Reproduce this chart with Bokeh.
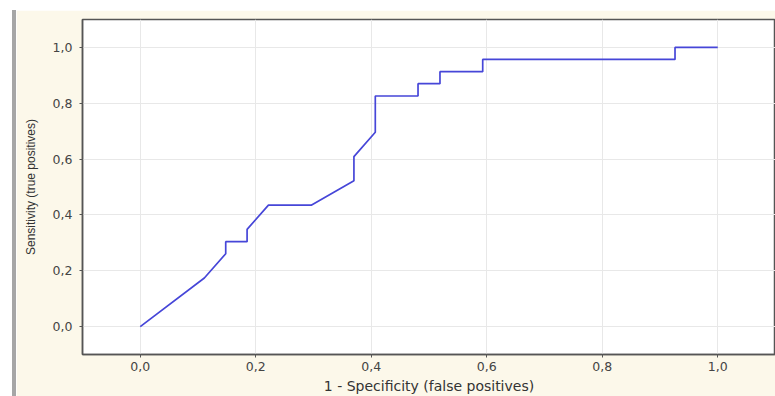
from bokeh.plotting import figure
from bokeh.models import Range1d, FixedTicker, Spacer
from bokeh.layouts import row, column
from bokeh.embed import file_html
from bokeh.resources import INLINE

# ROC curve data (1 - specificity, sensitivity)
fpr = [0.0, 0.111, 0.148, 0.148, 0.185, 0.185, 0.222, 0.296, 0.370, 0.370, 0.407,
       0.407, 0.481, 0.481, 0.519, 0.519, 0.593, 0.593, 0.926, 0.926, 1.0]
tpr = [0.0, 0.174, 0.261, 0.304, 0.304, 0.348, 0.435, 0.435, 0.522, 0.609, 0.696,
       0.826, 0.826, 0.870, 0.870, 0.913, 0.913, 0.957, 0.957, 1.0, 1.0]

tick_values = [0.0, 0.2, 0.4, 0.6, 0.8, 1.0]
tick_labels = ["0,0", "0,2", "0,4", "0,6", "0,8", "1,0"]

CREAM = "#fcf8ea"

p = figure(width=759, height=386, output_backend="svg", toolbar_location=None,
           x_range=Range1d(-0.1, 1.1), y_range=Range1d(-0.1, 1.1),
           min_border_left=66, min_border_top=9, min_border_bottom=42,
           min_border_right=0)
p.background_fill_color = "white"
p.border_fill_color = CREAM
p.outline_line_color = "#555555"
p.outline_line_width = 1.5

p.line(fpr, tpr, line_color="#4646d8", line_width=1.7)

overrides = {v: l for v, l in zip(tick_values, tick_labels)}
for ax in (p.xaxis[0], p.yaxis[0]):
    ax.ticker = FixedTicker(ticks=tick_values)
    ax.major_label_overrides = overrides
    ax.minor_tick_line_color = None
    ax.axis_line_color = "#555555"
    ax.axis_line_width = 1.5
    ax.major_tick_line_color = "#555555"
    ax.major_tick_in = 0
    ax.major_tick_out = 3
    ax.major_label_text_font = "DejaVu Sans"
    ax.major_label_text_font_size = "12.5px"
    ax.major_label_text_color = "#444444"
    ax.axis_label_text_font_style = "normal"
    ax.axis_label_text_color = "#333333"

p.xaxis.axis_label = "1 - Specificity (false positives)"
p.xaxis.axis_label_text_font = "DejaVu Sans"
p.xaxis.axis_label_text_font_size = "14px"
p.yaxis.axis_label = "Sensitivity (true positives)"
p.yaxis.axis_label_text_font = "Liberation Sans"
p.yaxis.axis_label_text_font_size = "12px"
p.yaxis.major_label_standoff = 7
p.yaxis.axis_label_standoff = 12
p.xaxis.major_label_standoff = 4
p.xaxis.axis_label_standoff = 4

p.xgrid.ticker = FixedTicker(ticks=tick_values)
p.ygrid.ticker = FixedTicker(ticks=tick_values)
p.grid.grid_line_color = "#e8e8e8"
p.grid.grid_line_width = 1

# white page margin and the grey bar at the left of the original panel
left_pad = Spacer(width=12, height=386)
grey_bar = Spacer(width=4, height=386, styles={"background-color": "#a6a6a6"})
top_pad = Spacer(width=775, height=10)
layout = column(top_pad, row(left_pad, grey_bar, p, spacing=0), spacing=0)

open("out.html", "w").write(file_html(layout, INLINE))
